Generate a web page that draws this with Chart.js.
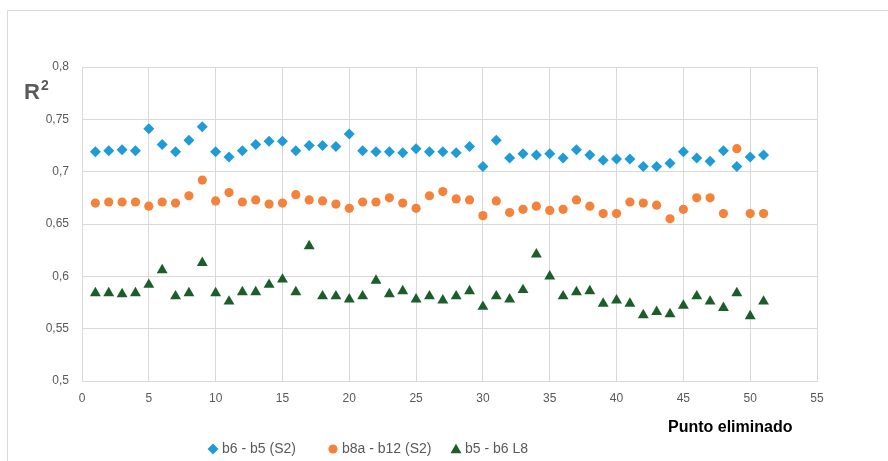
<!DOCTYPE html>
<html lang="es">
<head>
<meta charset="utf-8">
<title>R2 - Punto eliminado</title>
<script src="https://cdn.jsdelivr.net/npm/chart.js@4/dist/chart.umd.min.js"></script>
<style>
    html, body { margin: 0; padding: 0; background: #ffffff; }
    #r2Chart { display: block; }
</style>
</head>
<body>
<canvas id="r2Chart" width="888" height="461"></canvas>
<script>
// ============================================
// Data
// ============================================

const puntoEliminado = [
    1, 2, 3, 4, 5, 6, 7, 8, 9, 10,
    11, 12, 13, 14, 15, 16, 17, 18, 19, 20,
    21, 22, 23, 24, 25, 26, 27, 28, 29, 30,
    31, 32, 33, 34, 35, 36, 37, 38, 39, 40,
    41, 42, 43, 44, 45, 46, 47, 48, 49, 50, 51
];

const b6b5S2 = [
    0.719, 0.720, 0.721, 0.720, 0.741, 0.726, 0.719, 0.730, 0.743, 0.719,
    0.714, 0.720, 0.726, 0.729, 0.729, 0.720, 0.725, 0.725, 0.724, 0.736,
    0.720, 0.719, 0.719, 0.718, 0.722, 0.719, 0.719, 0.718, 0.724, 0.705,
    0.730, 0.713, 0.717, 0.716, 0.717, 0.713, 0.721, 0.716, 0.711, 0.712,
    0.712, 0.705, 0.705, 0.708, 0.719, 0.713, 0.710, 0.720, 0.705, 0.714, 0.716
];

const b8ab12S2 = [
    0.670, 0.671, 0.671, 0.671, 0.667, 0.671, 0.670, 0.677, 0.692, 0.672,
    0.680, 0.671, 0.673, 0.669, 0.670, 0.678, 0.673, 0.672, 0.669, 0.665,
    0.671, 0.671, 0.675, 0.670, 0.665, 0.677, 0.681, 0.674, 0.673, 0.658,
    0.672, 0.661, 0.664, 0.667, 0.663, 0.664, 0.673, 0.667, 0.660, 0.660,
    0.671, 0.670, 0.668, 0.655, 0.664, 0.675, 0.675, 0.660, 0.722, 0.660, 0.660
];

const b5b6L8 = [
    0.584, 0.584, 0.583, 0.584, 0.592, 0.606, 0.581, 0.584, 0.613, 0.584,
    0.576, 0.585, 0.585, 0.592, 0.597, 0.585, 0.629, 0.581, 0.581, 0.578,
    0.581, 0.596, 0.583, 0.586, 0.578, 0.581, 0.577, 0.581, 0.586, 0.571,
    0.581, 0.578, 0.587, 0.621, 0.600, 0.581, 0.585, 0.586, 0.574, 0.577,
    0.574, 0.563, 0.566, 0.564, 0.572, 0.581, 0.576, 0.570, 0.584, 0.562, 0.576
];

const seriesNames = ['b6 - b5 (S2)', 'b8a - b12 (S2)', 'b5 - b6 L8'];
const xTicks = [0, 5, 10, 15, 20, 25, 30, 35, 40, 45, 50, 55];
const yTicks = [0.5, 0.55, 0.6, 0.65, 0.7, 0.75, 0.8];

(function () {
    'use strict';

    // ============================================
    // Configuration
    // ============================================

    const CONFIG = {
        font: "'Liberation Sans', Arial, sans-serif",
        colors: {
            blue: '#1f9bd8',
            orange: '#f5823a',
            green: '#1b5e2c',
            grid: '#d9d9d9',
            text: '#595959',
            frame: '#d9d9d9'
        },
        area: { left: 82, top: 67, right: 817, bottom: 381 }
    };

    const W = 888;
    const H = 461;

    function toPoints(values) {
        return values.map((v, i) => ({ x: puntoEliminado[i], y: v }));
    }

    // decimal comma, like the original
    function fmt(v) {
        return String(Math.round(v * 100) / 100).replace('.', ',');
    }

    const styles = [
        { pointStyle: 'rectRot', radius: 5.5, color: CONFIG.colors.blue },
        { pointStyle: 'circle', radius: 4.6, color: CONFIG.colors.orange },
        { pointStyle: 'triangle', radius: 6.3, color: CONFIG.colors.green }
    ];

    const datasets = [b6b5S2, b8ab12S2, b5b6L8].map((vals, i) => ({
        label: seriesNames[i],
        data: toPoints(vals),
        showLine: false,
        pointStyle: styles[i].pointStyle,
        pointRadius: styles[i].radius,
        pointHoverRadius: styles[i].radius,
        pointBackgroundColor: styles[i].color,
        pointBorderColor: styles[i].color,
        pointBorderWidth: 0
    }));

    // ============================================
    // Decorations: frame, R², axis title, legend
    // ============================================

    const decorations = {
        id: 'decorations',
        beforeDraw(chart) {
            const ctx = chart.ctx;
            ctx.save();
            ctx.strokeStyle = CONFIG.colors.frame;
            ctx.lineWidth = 1;
            ctx.beginPath();
            ctx.moveTo(7.5, H + 2);
            ctx.lineTo(7.5, 10.5);
            ctx.lineTo(W + 2, 10.5);
            ctx.stroke();
            ctx.restore();
        },
        afterDraw(chart) {
            const ctx = chart.ctx;
            ctx.save();

            // y axis title "R²"
            ctx.fillStyle = CONFIG.colors.text;
            ctx.textBaseline = 'alphabetic';
            ctx.textAlign = 'left';
            ctx.font = 'bold 22px ' + CONFIG.font;
            ctx.fillText('R', 24, 99);
            const rw = ctx.measureText('R').width;
            ctx.font = 'bold 14px ' + CONFIG.font;
            ctx.fillText('2', 24 + rw + 1, 90);

            // x axis title
            ctx.fillStyle = '#000000';
            ctx.font = 'bold 16px ' + CONFIG.font;
            ctx.textBaseline = 'middle';
            ctx.fillText('Punto eliminado', 668, 428);

            // legend
            const legendY = 449;
            const legendX = [213, 333, 456];
            ctx.font = '14px ' + CONFIG.font;
            styles.forEach((s, i) => {
                ctx.fillStyle = s.color;
                ctx.strokeStyle = s.color;
                Chart.helpers.drawPoint(ctx, {
                    pointStyle: s.pointStyle,
                    radius: s.radius,
                    borderWidth: 0,
                    rotation: 0
                }, legendX[i], legendY + (s.pointStyle === 'triangle' ? 1 : 0));
                ctx.fillStyle = CONFIG.colors.text;
                ctx.fillText(seriesNames[i], legendX[i] + 9, legendY);
            });

            ctx.restore();
        }
    };

    // ============================================
    // Chart
    // ============================================

    const canvas = document.getElementById('r2Chart');

    new Chart(canvas.getContext('2d'), {
        type: 'scatter',
        data: { datasets: datasets },
        options: {
            responsive: false,
            animation: false,
            events: [],
            layout: {
                padding: {
                    left: 0,
                    top: CONFIG.area.top,
                    right: W - CONFIG.area.right,
                    bottom: 0
                }
            },
            plugins: {
                legend: { display: false },
                tooltip: { enabled: false }
            },
            scales: {
                x: {
                    type: 'linear',
                    min: xTicks[0],
                    max: xTicks[xTicks.length - 1],
                    afterBuildTicks: (scale) => {
                        scale.ticks = xTicks.map(v => ({ value: v }));
                    },
                    afterFit: (scale) => {
                        scale.height = H - CONFIG.area.bottom;
                    },
                    grid: {
                        color: CONFIG.colors.grid,
                        drawTicks: false
                    },
                    border: { color: CONFIG.colors.grid },
                    ticks: {
                        color: CONFIG.colors.text,
                        padding: 10,
                        maxRotation: 0,
                        font: { family: CONFIG.font, size: 12 },
                        callback: (v) => String(v)
                    }
                },
                y: {
                    type: 'linear',
                    min: yTicks[0],
                    max: yTicks[yTicks.length - 1],
                    afterBuildTicks: (scale) => {
                        scale.ticks = yTicks.map(v => ({ value: v }));
                    },
                    afterFit: (scale) => {
                        scale.width = CONFIG.area.left;
                    },
                    grid: {
                        color: CONFIG.colors.grid,
                        drawTicks: false
                    },
                    border: { color: CONFIG.colors.grid },
                    ticks: {
                        color: CONFIG.colors.text,
                        padding: 13,
                        font: { family: CONFIG.font, size: 12 },
                        callback: (v) => fmt(v)
                    }
                }
            }
        },
        plugins: [decorations]
    });

})();
</script>
</body>
</html>
